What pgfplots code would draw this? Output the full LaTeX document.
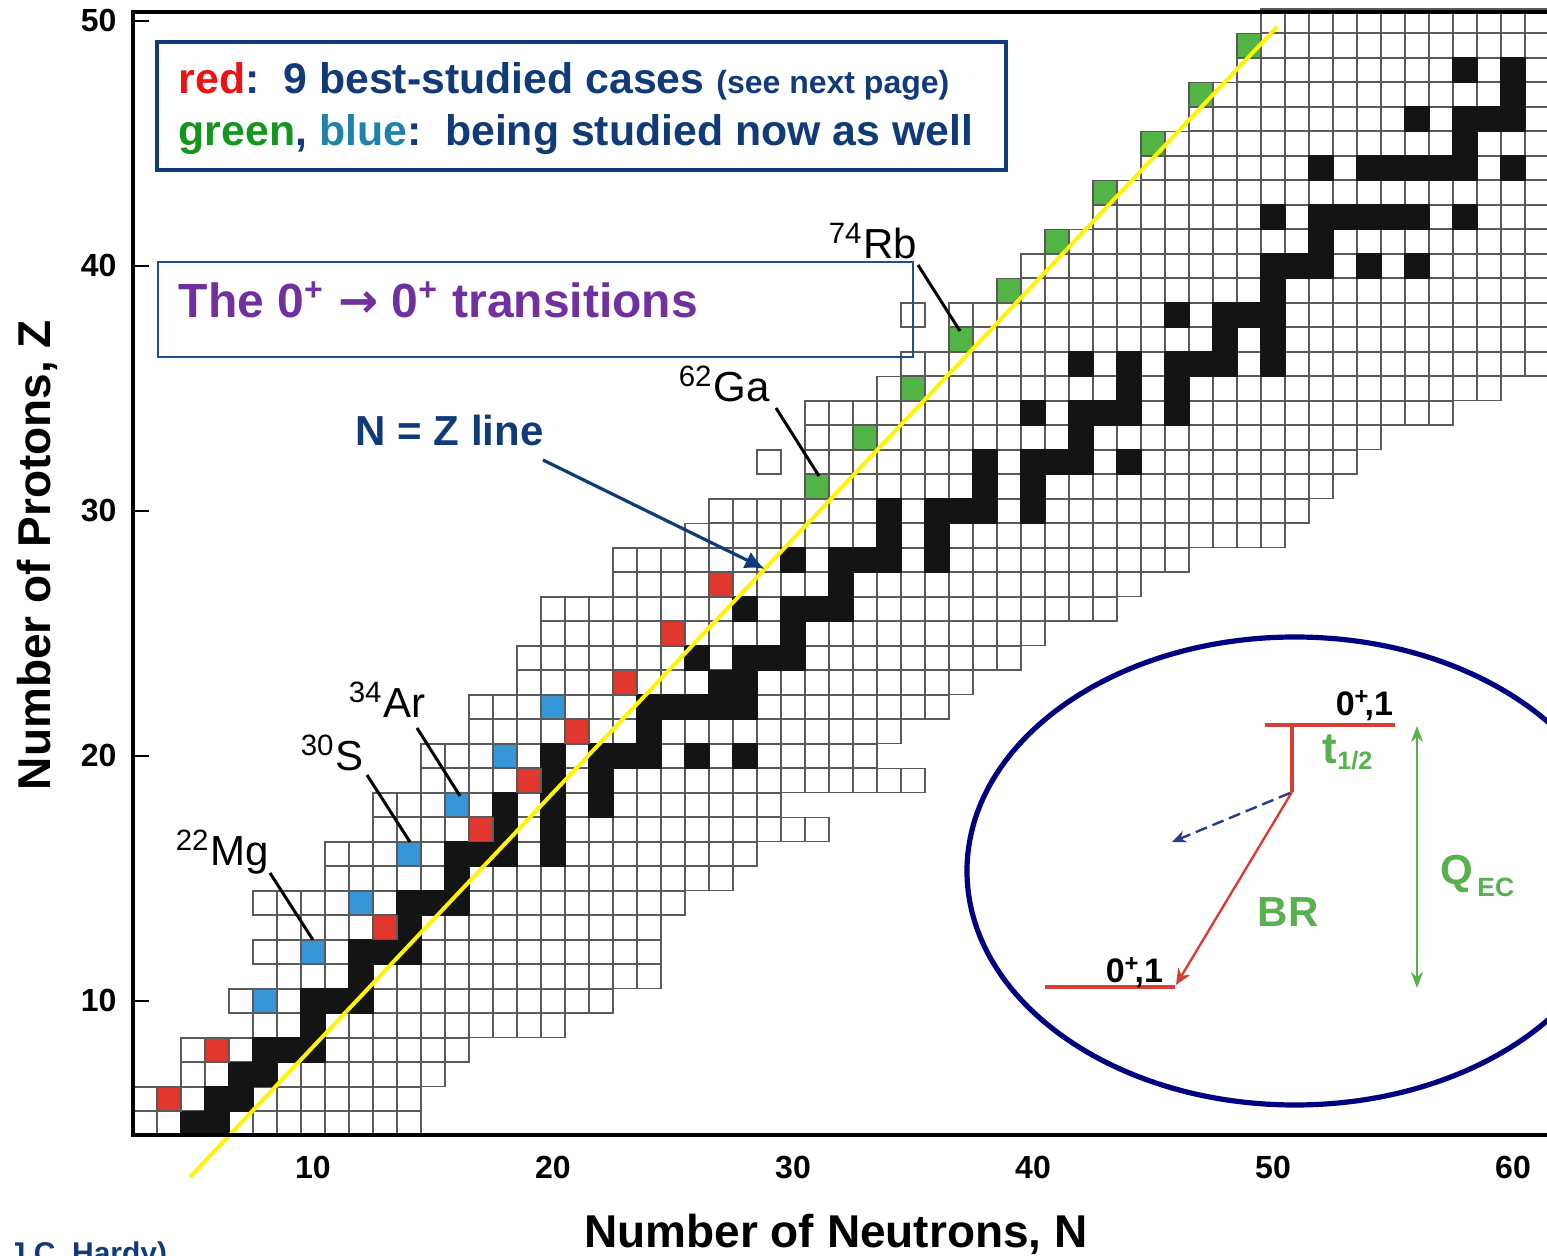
\documentclass[border=0pt]{standalone}
\usepackage{pgfplots}
\pgfplotsset{compat=1.18}
\usepackage{fontspec}
\setmainfont{Liberation Sans}
\newfontfamily\dejavu{DejaVu Sans}
\usetikzlibrary{arrows.meta}
\definecolor{navy}{RGB}{16,58,120}
\definecolor{boxblue}{RGB}{31,78,140}
\definecolor{redtxt}{RGB}{235,20,20}
\definecolor{greentxt}{RGB}{20,150,30}
\definecolor{bluetxt}{RGB}{30,130,170}
\definecolor{purp}{RGB}{112,48,160}
\definecolor{cellred}{RGB}{224,56,46}
\definecolor{cellblue}{RGB}{54,150,214}
\definecolor{cellgreen}{RGB}{82,180,68}
\definecolor{gridgray}{RGB}{90,90,90}
\definecolor{ylw}{RGB}{255,245,0}
\definecolor{ellnavy}{RGB}{0,0,128}
\definecolor{insetred}{RGB}{214,64,52}
\definecolor{insetgreen}{RGB}{88,176,78}
\definecolor{dashblue}{RGB}{40,60,140}
\pgfplotsset{
 cellw/.style={only marks, mark=square*, mark size=3pt, mark options={fill=white, draw=gridgray, line width=0.35pt}},
 cellk/.style={only marks, mark=square*, mark size=3.07pt, mark options={fill=black!92, draw=black!92, line width=0.2pt}},
 cellc/.style={only marks, mark=square*, mark size=3pt, mark options={fill=#1, draw=gridgray, line width=0.35pt}},
}
\begin{document}
\begin{tikzpicture}
\useasboundingbox (0,0) rectangle (386.75pt,314pt);
\clip (0,0) rectangle (386.75pt,314pt);
\begin{axis}[
  at={(33.25pt,30.25pt)}, anchor=south west,
  x=6pt, y=6.125pt,
  xmin=2.5, xmax=62, ymin=4.53, ymax=50.37,
  clip=false, clip marker paths=true, axis on top,
  axis line style={line width=1.2pt, black},
  xtick={10,20,...,60}, ytick={10,20,...,50},
  tick pos=left, tick align=inside,
  major tick length=4pt,
  xtick style={draw=none},
  ytick style={line width=0.6pt, black},
  /pgf/number format/assume math mode=true,
  ticklabel style={font=\bfseries\fontsize{8}{9}\selectfont},
  xticklabel style={yshift=-1.75pt},
  yticklabel style={xshift=-0.6pt},
]
% white cells (known nuclides), one row per Z
\addplot[cellw] coordinates {(3,5)(4,5)(5,5)(6,5)(7,5)(8,5)(9,5)(10,5)(11,5)(12,5)(13,5)(14,5)};
\addplot[cellw] coordinates {(3,6)(4,6)(5,6)(6,6)(7,6)(8,6)(9,6)(10,6)(11,6)(12,6)(13,6)(14,6)};
\addplot[cellw] coordinates {(5,7)(6,7)(7,7)(8,7)(9,7)(10,7)(11,7)(12,7)(13,7)(14,7)(15,7)};
\addplot[cellw] coordinates {(5,8)(6,8)(7,8)(8,8)(9,8)(10,8)(11,8)(12,8)(13,8)(14,8)(15,8)(16,8)};
\addplot[cellw] coordinates {(8,9)(9,9)(10,9)(11,9)(12,9)(13,9)(14,9)(15,9)(16,9)(17,9)(18,9)(19,9)(20,9)};
\addplot[cellw] coordinates {(7,10)(8,10)(9,10)(10,10)(11,10)(12,10)(13,10)(14,10)(15,10)(16,10)(17,10)(18,10)(19,10)(20,10)(21,10)(22,10)};
\addplot[cellw] coordinates {(9,11)(10,11)(11,11)(12,11)(13,11)(14,11)(15,11)(16,11)(17,11)(18,11)(19,11)(20,11)(21,11)(22,11)(23,11)(24,11)};
\addplot[cellw] coordinates {(8,12)(9,12)(10,12)(11,12)(12,12)(13,12)(14,12)(15,12)(16,12)(17,12)(18,12)(19,12)(20,12)(21,12)(22,12)(23,12)(24,12)};
\addplot[cellw] coordinates {(9,13)(10,13)(11,13)(12,13)(13,13)(14,13)(15,13)(16,13)(17,13)(18,13)(19,13)(20,13)(21,13)(22,13)(23,13)(24,13)};
\addplot[cellw] coordinates {(8,14)(9,14)(10,14)(11,14)(12,14)(13,14)(14,14)(15,14)(16,14)(17,14)(18,14)(19,14)(20,14)(21,14)(22,14)(23,14)(24,14)(25,14)};
\addplot[cellw] coordinates {(11,15)(12,15)(13,15)(14,15)(15,15)(16,15)(17,15)(18,15)(19,15)(20,15)(21,15)(22,15)(23,15)(24,15)(25,15)(26,15)(27,15)};
\addplot[cellw] coordinates {(11,16)(12,16)(13,16)(14,16)(15,16)(16,16)(17,16)(18,16)(19,16)(20,16)(21,16)(22,16)(23,16)(24,16)(25,16)(26,16)(27,16)(28,16)};
\addplot[cellw] coordinates {(13,17)(14,17)(15,17)(16,17)(17,17)(18,17)(19,17)(20,17)(21,17)(22,17)(23,17)(24,17)(25,17)(26,17)(27,17)(28,17)(29,17)(30,17)(31,17)};
\addplot[cellw] coordinates {(13,18)(14,18)(15,18)(16,18)(17,18)(18,18)(19,18)(20,18)(21,18)(22,18)(23,18)(24,18)(25,18)(26,18)(27,18)(28,18)(29,18)};
\addplot[cellw] coordinates {(15,19)(16,19)(17,19)(18,19)(19,19)(20,19)(21,19)(22,19)(23,19)(24,19)(25,19)(26,19)(27,19)(28,19)(29,19)(30,19)(31,19)(32,19)(33,19)(34,19)(35,19)};
\addplot[cellw] coordinates {(15,20)(16,20)(17,20)(18,20)(19,20)(20,20)(21,20)(22,20)(23,20)(24,20)(25,20)(26,20)(27,20)(28,20)(29,20)(30,20)(31,20)(32,20)(33,20)};
\addplot[cellw] coordinates {(17,21)(18,21)(19,21)(20,21)(21,21)(22,21)(23,21)(24,21)(25,21)(26,21)(27,21)(28,21)(29,21)(30,21)(31,21)(32,21)(33,21)(34,21)};
\addplot[cellw] coordinates {(17,22)(18,22)(19,22)(20,22)(21,22)(22,22)(23,22)(24,22)(25,22)(26,22)(27,22)(28,22)(29,22)(30,22)(31,22)(32,22)(33,22)(34,22)(35,22)(36,22)};
\addplot[cellw] coordinates {(19,23)(20,23)(21,23)(22,23)(23,23)(24,23)(25,23)(26,23)(27,23)(28,23)(29,23)(30,23)(31,23)(32,23)(33,23)(34,23)(35,23)(36,23)(37,23)};
\addplot[cellw] coordinates {(19,24)(20,24)(21,24)(22,24)(23,24)(24,24)(25,24)(26,24)(27,24)(28,24)(29,24)(30,24)(31,24)(32,24)(33,24)(34,24)(35,24)(36,24)(37,24)(38,24)(39,24)};
\addplot[cellw] coordinates {(20,25)(21,25)(22,25)(23,25)(24,25)(25,25)(26,25)(27,25)(28,25)(29,25)(30,25)(31,25)(32,25)(33,25)(34,25)(35,25)(36,25)(37,25)(38,25)(39,25)(40,25)};
\addplot[cellw] coordinates {(20,26)(21,26)(22,26)(23,26)(24,26)(25,26)(26,26)(27,26)(28,26)(29,26)(30,26)(31,26)(32,26)(33,26)(34,26)(35,26)(36,26)(37,26)(38,26)(39,26)(40,26)(41,26)(42,26)(43,26)};
\addplot[cellw] coordinates {(23,27)(24,27)(25,27)(26,27)(27,27)(28,27)(29,27)(30,27)(31,27)(32,27)(33,27)(34,27)(35,27)(36,27)(37,27)(38,27)(39,27)(40,27)(41,27)(42,27)(43,27)(44,27)};
\addplot[cellw] coordinates {(23,28)(24,28)(25,28)(26,28)(27,28)(28,28)(29,28)(30,28)(31,28)(32,28)(33,28)(34,28)(35,28)(36,28)(37,28)(38,28)(39,28)(40,28)(41,28)(42,28)(43,28)(44,28)(45,28)(46,28)};
\addplot[cellw] coordinates {(26,29)(27,29)(28,29)(29,29)(30,29)(31,29)(32,29)(33,29)(34,29)(35,29)(36,29)(37,29)(38,29)(39,29)(40,29)(41,29)(42,29)(43,29)(44,29)(45,29)(46,29)(47,29)(48,29)(49,29)(50,29)};
\addplot[cellw] coordinates {(27,30)(28,30)(29,30)(30,30)(31,30)(32,30)(33,30)(34,30)(35,30)(36,30)(37,30)(38,30)(39,30)(40,30)(41,30)(42,30)(43,30)(44,30)(45,30)(46,30)(47,30)(48,30)(49,30)(50,30)(51,30)};
\addplot[cellw] coordinates {(31,31)(32,31)(33,31)(34,31)(35,31)(36,31)(37,31)(38,31)(39,31)(40,31)(41,31)(42,31)(43,31)(44,31)(45,31)(46,31)(47,31)(48,31)(49,31)(50,31)(51,31)(52,31)};
\addplot[cellw] coordinates {(29,32)(31,32)(32,32)(33,32)(34,32)(35,32)(36,32)(37,32)(38,32)(39,32)(40,32)(41,32)(42,32)(43,32)(44,32)(45,32)(46,32)(47,32)(48,32)(49,32)(50,32)(51,32)(52,32)(53,32)};
\addplot[cellw] coordinates {(31,33)(32,33)(33,33)(34,33)(35,33)(36,33)(37,33)(38,33)(39,33)(40,33)(41,33)(42,33)(43,33)(44,33)(45,33)(46,33)(47,33)(48,33)(49,33)(50,33)(51,33)(52,33)(53,33)(54,33)};
\addplot[cellw] coordinates {(31,34)(32,34)(33,34)(34,34)(35,34)(36,34)(37,34)(38,34)(39,34)(40,34)(41,34)(42,34)(43,34)(44,34)(45,34)(46,34)(47,34)(48,34)(49,34)(50,34)(51,34)(52,34)(53,34)(54,34)(55,34)(56,34)(57,34)};
\addplot[cellw] coordinates {(34,35)(35,35)(36,35)(37,35)(38,35)(39,35)(40,35)(41,35)(42,35)(43,35)(44,35)(45,35)(46,35)(47,35)(48,35)(49,35)(50,35)(51,35)(52,35)(53,35)(54,35)(55,35)(56,35)(57,35)(58,35)(59,35)};
\addplot[cellw] coordinates {(35,36)(36,36)(37,36)(38,36)(39,36)(40,36)(41,36)(42,36)(43,36)(44,36)(45,36)(46,36)(47,36)(48,36)(49,36)(50,36)(51,36)(52,36)(53,36)(54,36)(55,36)(56,36)(57,36)(58,36)(59,36)(60,36)(61,36)};
\addplot[cellw] coordinates {(37,37)(38,37)(39,37)(40,37)(41,37)(42,37)(43,37)(44,37)(45,37)(46,37)(47,37)(48,37)(49,37)(50,37)(51,37)(52,37)(53,37)(54,37)(55,37)(56,37)(57,37)(58,37)(59,37)(60,37)(61,37)};
\addplot[cellw] coordinates {(35,38)(37,38)(38,38)(39,38)(40,38)(41,38)(42,38)(43,38)(44,38)(45,38)(46,38)(47,38)(48,38)(49,38)(50,38)(51,38)(52,38)(53,38)(54,38)(55,38)(56,38)(57,38)(58,38)(59,38)(60,38)(61,38)};
\addplot[cellw] coordinates {(39,39)(40,39)(41,39)(42,39)(43,39)(44,39)(45,39)(46,39)(47,39)(48,39)(49,39)(50,39)(51,39)(52,39)(53,39)(54,39)(55,39)(56,39)(57,39)(58,39)(59,39)(60,39)(61,39)};
\addplot[cellw] coordinates {(40,40)(41,40)(42,40)(43,40)(44,40)(45,40)(46,40)(47,40)(48,40)(49,40)(50,40)(51,40)(52,40)(53,40)(54,40)(55,40)(56,40)(57,40)(58,40)(59,40)(60,40)(61,40)};
\addplot[cellw] coordinates {(41,41)(42,41)(43,41)(44,41)(45,41)(46,41)(47,41)(48,41)(49,41)(50,41)(51,41)(52,41)(53,41)(54,41)(55,41)(56,41)(57,41)(58,41)(59,41)(60,41)(61,41)};
\addplot[cellw] coordinates {(43,42)(44,42)(45,42)(46,42)(47,42)(48,42)(49,42)(50,42)(51,42)(52,42)(53,42)(54,42)(55,42)(56,42)(57,42)(58,42)(59,42)(60,42)(61,42)};
\addplot[cellw] coordinates {(43,43)(44,43)(45,43)(46,43)(47,43)(48,43)(49,43)(50,43)(51,43)(52,43)(53,43)(54,43)(55,43)(56,43)(57,43)(58,43)(59,43)(60,43)(61,43)};
\addplot[cellw] coordinates {(45,44)(46,44)(47,44)(48,44)(49,44)(50,44)(51,44)(52,44)(53,44)(54,44)(55,44)(56,44)(57,44)(58,44)(59,44)(60,44)(61,44)};
\addplot[cellw] coordinates {(45,45)(46,45)(47,45)(48,45)(49,45)(50,45)(51,45)(52,45)(53,45)(54,45)(55,45)(56,45)(57,45)(58,45)(59,45)(60,45)(61,45)};
\addplot[cellw] coordinates {(47,46)(48,46)(49,46)(50,46)(51,46)(52,46)(53,46)(54,46)(55,46)(56,46)(57,46)(58,46)(59,46)(60,46)(61,46)};
\addplot[cellw] coordinates {(47,47)(48,47)(49,47)(50,47)(51,47)(52,47)(53,47)(54,47)(55,47)(56,47)(57,47)(58,47)(59,47)(60,47)(61,47)};
\addplot[cellw] coordinates {(49,48)(50,48)(51,48)(52,48)(53,48)(54,48)(55,48)(56,48)(57,48)(58,48)(59,48)(60,48)(61,48)};
\addplot[cellw] coordinates {(49,49)(50,49)(51,49)(52,49)(53,49)(54,49)(55,49)(56,49)(57,49)(58,49)(59,49)(60,49)(61,49)};
\addplot[cellw] coordinates {(50,50)(51,50)(52,50)(53,50)(54,50)(55,50)(56,50)(57,50)(58,50)(59,50)(60,50)(61,50)};
% stable nuclides (black)
\addplot[cellk] coordinates {
(5,5)(6,5)(6,6)(7,6)(7,7)(8,7)(8,8)(9,8)(10,8)(10,9)(10,10)(11,10)(12,10)(12,11)
(12,12)(13,12)(14,12)(14,13)(14,14)(15,14)(16,14)(16,15)(16,16)(17,16)(18,16)(20,16)
(18,17)(20,17)(18,18)(20,18)(22,18)(20,19)(22,19)
(20,20)(22,20)(23,20)(24,20)(26,20)(28,20)(24,21)(24,22)(25,22)(26,22)(27,22)(28,22)
(27,23)(28,23)(26,24)(28,24)(29,24)(30,24)(30,25)(28,26)(30,26)(31,26)(32,26)(32,27)
(30,28)(32,28)(33,28)(34,28)(36,28)(34,29)(36,29)(34,30)(36,30)(37,30)(38,30)(40,30)
(38,31)(40,31)(38,32)(40,32)(41,32)(42,32)(44,32)(42,33)(40,34)(42,34)(43,34)(44,34)(46,34)
(44,35)(46,35)(42,36)(44,36)(46,36)(47,36)(48,36)(50,36)(48,37)(50,37)
(46,38)(48,38)(49,38)(50,38)(50,39)(50,40)(51,40)(52,40)(54,40)(56,40)(52,41)
(50,42)(52,42)(53,42)(54,42)(55,42)(56,42)(58,42)
(52,44)(54,44)(55,44)(56,44)(57,44)(58,44)(60,44)(58,45)(56,46)(58,46)(59,46)(60,46)
(60,47)(58,48)(60,48)};
% superallowed emitters
\addplot[cellc=cellred] coordinates {(4,6)(6,8)(13,13)(17,17)(19,19)(21,21)(23,23)(25,25)(27,27)};
\addplot[cellc=cellblue] coordinates {(8,10)(10,12)(12,14)(14,16)(16,18)(18,20)(20,22)};
\addplot[cellc=cellgreen] coordinates {(31,31)(33,33)(35,35)(37,37)(39,39)(41,41)(43,43)(45,45)(47,47)(49,49)};
% N = Z guide line
\addplot[ylw, line width=1pt, no marks] coordinates {(4.875,2.816)(50.17,49.76)};
\end{axis}
\begin{scope}[x=0.25pt,y=-0.25pt,yshift=314pt]
% info box
\draw[navy, line width=0.8pt, fill=white] (157,42) rectangle (1006,170);
\node[anchor=base west, inner sep=0] at (178,94) {\fontsize{10.7}{12}\selectfont\bfseries\textcolor{redtxt}{red}\textcolor{navy}{:\ \ 9 best-studied cases {\fontsize{8}{9}\selectfont (see next page)}}};
\node[anchor=base west, inner sep=0] at (178,146) {\fontsize{10.7}{12}\selectfont\bfseries\textcolor{greentxt}{green}\textcolor{navy}{,} \textcolor{bluetxt}{blue}\textcolor{navy}{:\ \ being studied now as well}};
% title box
\draw[boxblue, line width=0.45pt] (158,262) rectangle (913,357);
\node[anchor=base west, inner sep=0, text=purp] at (178,318) {\fontsize{12}{14}\selectfont\bfseries The 0\textsuperscript{+} {\dejavu\bfseries →} 0\textsuperscript{+} transitions};
% N = Z label and arrow
\node[anchor=base west, inner sep=0, text=navy] at (355,446) {\fontsize{10.5}{12}\selectfont\bfseries N = Z line};
\draw[navy, line width=0.8pt, -{Latex[length=5pt,width=4.5pt]}] (543,460) -- (765,569);
% nuclide labels
\node[anchor=base west, inner sep=0] at (175,866) {\fontsize{10.5}{12}\selectfont\textsuperscript{22}Mg};
\draw[black, line width=0.75pt] (270,873) -- (313,940);
\node[anchor=base west, inner sep=0] at (300,771) {\fontsize{10.5}{12}\selectfont\textsuperscript{30}S};
\draw[black, line width=0.75pt] (367,775) -- (410,842);
\node[anchor=base west, inner sep=0] at (348,718) {\fontsize{10.5}{12}\selectfont\textsuperscript{34}Ar};
\draw[black, line width=0.75pt] (417,728) -- (460,796);
\node[anchor=base west, inner sep=0] at (678,402) {\fontsize{10.5}{12}\selectfont\textsuperscript{62}Ga};
\draw[black, line width=0.75pt] (776,408) -- (819,476);
\node[anchor=base west, inner sep=0] at (828,259) {\fontsize{10.5}{12}\selectfont\textsuperscript{74}Rb};
\draw[black, line width=0.75pt] (918,265) -- (960,331);
% inset
\draw[ellnavy, line width=1.3pt, fill=white] (1295,871) ellipse [x radius=328, y radius=234];
\draw[insetred, line width=0.8pt] (1265,725) -- (1395,725);
\draw[insetred, line width=0.8pt] (1292,725) -- (1292,792);
\draw[insetred, line width=0.6pt, -{Stealth[length=4pt,width=3.5pt]}] (1292,792) -- (1176,985);
\draw[insetred, line width=0.8pt] (1045,987) -- (1175,987);
\draw[dashblue, line width=0.6pt, dash pattern=on 3pt off 1.5pt, -{Stealth[length=3.5pt,width=3pt]}] (1290,793) -- (1172,842);
\draw[insetgreen, line width=0.5pt, {Stealth[length=4pt,width=3pt]}-{Stealth[length=4pt,width=3pt]}] (1417,726) -- (1417,988);
\node[anchor=base west, inner sep=0] at (1335,716) {\fontsize{8.5}{10}\selectfont\bfseries 0\textsuperscript{+}\kern-1.5pt,1};
\node[anchor=base west, inner sep=0] at (1105,983) {\fontsize{8.5}{10}\selectfont\bfseries 0\textsuperscript{+}\kern-1.5pt,1};
\node[anchor=base west, inner sep=0, text=insetgreen] at (1322,764) {\fontsize{11}{13}\selectfont\bfseries t\raisebox{-1.4pt}{\fontsize{6.3}{7}\selectfont 1/2}};
\node[anchor=base west, inner sep=0, text=insetgreen] at (1440,885) {\fontsize{10.5}{12}\selectfont\bfseries Q\kern1pt\raisebox{-3pt}{\fontsize{6.6}{7}\selectfont EC}};
\node[anchor=base west, inner sep=0, text=insetgreen] at (1257,927) {\fontsize{10.5}{12}\selectfont\bfseries BR};
% axis labels
\node[anchor=base] at (836,1248) {\fontsize{11.5}{13}\selectfont\bfseries Number of Neutrons, N};
\node[anchor=base, rotate=90] at (50,555) {\fontsize{11.5}{13}\selectfont\bfseries Number of Protons, Z};
\node[anchor=base west, inner sep=0, text=navy] at (8,1264) {\fontsize{7.5}{9}\selectfont\bfseries J.C. Hardy)};
\end{scope}
\end{tikzpicture}
\end{document}
